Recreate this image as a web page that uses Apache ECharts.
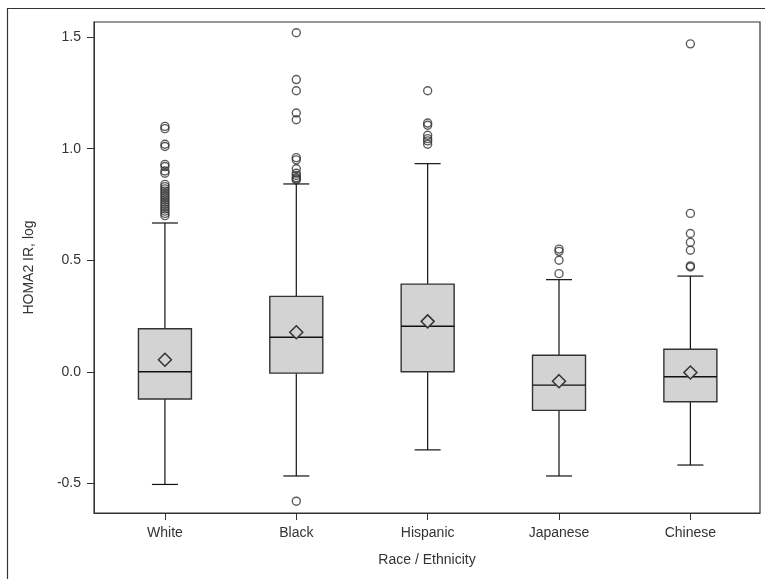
<!DOCTYPE html>
<html>
<head>
<meta charset="utf-8">
<script src="https://cdn.jsdelivr.net/npm/echarts@6/dist/echarts.min.js"></script>
<style>html,body{margin:0;padding:0;background:#fff}#c{width:765px;height:579px}</style>
</head>
<body>
<div id="c"></div>
<script>
const categories = ['White', 'Black', 'Hispanic', 'Japanese', 'Chinese'];
const whiskerLow = [-0.505, -0.467, -0.35, -0.467, -0.418];
const q1 = [-0.122, -0.006, 0.0, -0.173, -0.134];
const median = [0.0, 0.155, 0.204, -0.06, -0.022];
const q3 = [0.193, 0.338, 0.393, 0.074, 0.101];
const whiskerHigh = [0.667, 0.842, 0.933, 0.413, 0.429];
const mean = [0.054, 0.177, 0.226, -0.042, -0.003];
const outliersWhite = [1.10, 1.09, 1.02, 1.01, 0.93, 0.92, 0.90, 0.89, 0.84, 0.83, 0.82, 0.81, 0.80, 0.79, 0.78, 0.77, 0.76, 0.75, 0.74, 0.73, 0.72, 0.71, 0.70];
const outliersBlack = [1.52, 1.31, 1.26, 1.16, 1.13, 0.96, 0.95, 0.91, 0.89, 0.88, 0.87, 0.865, 0.86, -0.58];
const outliersHispanic = [1.26, 1.115, 1.105, 1.06, 1.045, 1.035, 1.02];
const outliersJapanese = [0.55, 0.54, 0.50, 0.44];
const outliersChinese = [1.47, 0.71, 0.62, 0.58, 0.545, 0.475, 0.47];
const yTicks = [-0.5, 0, 0.5, 1.0, 1.5];

const outlierGroups = [outliersWhite, outliersBlack, outliersHispanic, outliersJapanese, outliersChinese];
const boxData = categories.map((c, i) => [i, whiskerLow[i], q1[i], median[i], q3[i], whiskerHigh[i], mean[i]]);
const outlierData = [];
outlierGroups.forEach((g, i) => g.forEach(v => outlierData.push([i, v])));

const FONT = 'Liberation Sans, Arial, sans-serif';
const TXT = '#333';

const chart = echarts.init(document.getElementById('c'));
chart.setOption({
  backgroundColor: '#fff',
  animation: false,
  graphic: [
    { type: 'rect', shape: { x: 7.5, y: 8.5, width: 800, height: 600 }, style: { fill: 'none', stroke: '#333', lineWidth: 1.2 }, z: 0 },
    { type: 'rect', shape: { x: 94, y: 22, width: 666, height: 491 }, style: { fill: 'none', stroke: '#333', lineWidth: 1.2 }, z: 100 }
  ],
  grid: { left: 94, right: 5, top: 22, bottom: 66, containLabel: false },
  xAxis: {
    type: 'value', min: -0.54, max: 4.53,
    name: 'Race / Ethnicity', nameLocation: 'middle', nameGap: 40,
    nameTextStyle: { fontFamily: FONT, fontSize: 14, color: TXT },
    splitLine: { show: false },
    axisLine: { show: true, onZero: false, lineStyle: { color: '#333' } },
    axisTick: { show: true, length: 7, customValues: [0, 1, 2, 3, 4], lineStyle: { color: '#333' } },
    axisLabel: { customValues: [0, 1, 2, 3, 4], margin: 13, fontFamily: FONT, fontSize: 14, color: TXT,
      formatter: v => categories[Math.round(v)] }
  },
  yAxis: {
    type: 'value', min: -0.633, max: 1.568,
    name: 'HOMA2 IR, log', nameLocation: 'middle', nameGap: 58,
    nameTextStyle: { fontFamily: FONT, fontSize: 14, color: TXT },
    splitLine: { show: false },
    axisLine: { show: true, onZero: false, lineStyle: { color: '#333' } },
    axisTick: { show: true, length: 7, customValues: yTicks, lineStyle: { color: '#333' } },
    axisLabel: { customValues: yTicks, margin: 13, fontFamily: FONT, fontSize: 14, color: TXT,
      formatter: v => v.toFixed(1) }
  },
  series: [
    {
      type: 'custom',
      data: boxData,
      encode: { x: 0, y: [1, 2, 3, 4, 5] },
      renderItem: function (params, api) {
        const i = api.value(0);
        const pLow = api.coord([i, api.value(1)]);
        const pQ1 = api.coord([i, api.value(2)]);
        const pMed = api.coord([i, api.value(3)]);
        const pQ3 = api.coord([i, api.value(4)]);
        const pHigh = api.coord([i, api.value(5)]);
        const pMean = api.coord([i, api.value(6)]);
        const x = pQ1[0];
        const bh = 26.5, ch = 13, d = 6.5;
        const line = '#111';
        return {
          type: 'group',
          children: [
            { type: 'line', shape: { x1: x, y1: pQ3[1], x2: x, y2: pHigh[1] }, style: { stroke: line, lineWidth: 1.2 } },
            { type: 'line', shape: { x1: x, y1: pQ1[1], x2: x, y2: pLow[1] }, style: { stroke: line, lineWidth: 1.2 } },
            { type: 'line', shape: { x1: x - ch, y1: pHigh[1], x2: x + ch, y2: pHigh[1] }, style: { stroke: line, lineWidth: 1.2 } },
            { type: 'line', shape: { x1: x - ch, y1: pLow[1], x2: x + ch, y2: pLow[1] }, style: { stroke: line, lineWidth: 1.2 } },
            { type: 'rect', shape: { x: x - bh, y: pQ3[1], width: 2 * bh, height: pQ1[1] - pQ3[1] },
              style: { fill: '#d3d3d3', stroke: '#333', lineWidth: 1.4 } },
            { type: 'line', shape: { x1: x - bh, y1: pMed[1], x2: x + bh, y2: pMed[1] }, style: { stroke: line, lineWidth: 1.4 } },
            { type: 'polygon', shape: { points: [[x, pMean[1] - d], [x + d, pMean[1]], [x, pMean[1] + d], [x - d, pMean[1]]] },
              style: { fill: '#d3d3d3', stroke: '#333', lineWidth: 1.5 } }
          ]
        };
      },
      z: 2
    },
    {
      type: 'scatter',
      data: outlierData,
      symbol: 'circle',
      symbolSize: 8,
      itemStyle: { color: 'rgba(0,0,0,0)', borderColor: '#333', borderWidth: 1.4 },
      z: 3
    }
  ]
});
</script>
</body>
</html>
